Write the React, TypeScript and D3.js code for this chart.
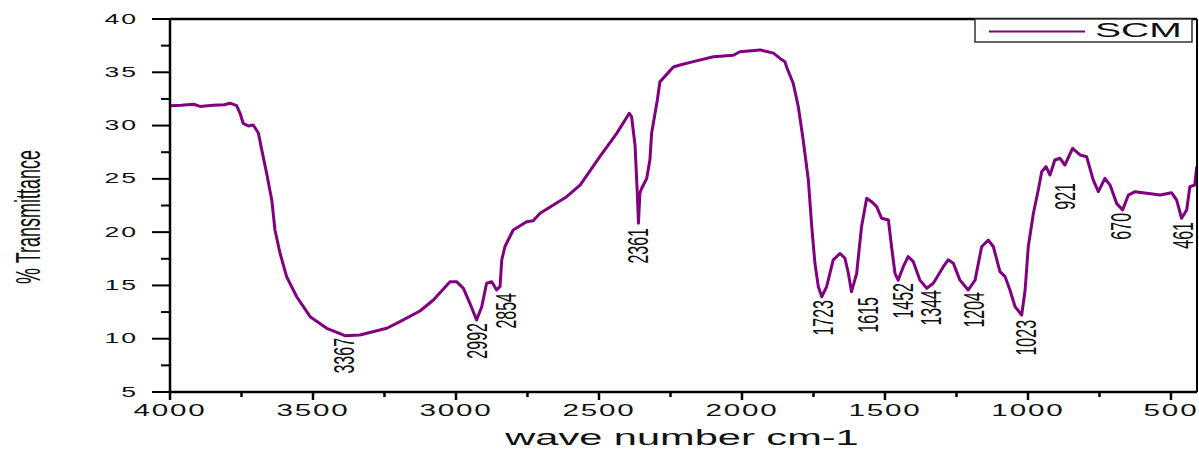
import React from "react";
import * as d3 from "d3";

const wavenumbers: number[] = [
  4000, 3960, 3918, 3895, 3849, 3810, 3790, 3767, 3755, 3744, 3726, 3709, 3691, 3679, 3662, 3644, 3633, 3615, 3592, 3557,
  3510, 3452, 3388, 3336, 3242, 3196, 3126, 3079, 3021, 2998, 2974, 2951, 2928, 2910, 2893, 2875, 2858, 2846, 2840, 2829,
  2800, 2753, 2730, 2706, 2613, 2566, 2497, 2438, 2394, 2386, 2374, 2366, 2362, 2357, 2351, 2333, 2322, 2316, 2304, 2296,
  2287, 2240, 2217, 2170, 2100, 2030, 2007, 1937, 1890, 1867, 1850, 1844, 1821, 1803, 1786, 1768, 1756, 1745, 1733, 1721,
  1704, 1681, 1657, 1640, 1628, 1617, 1599, 1582, 1564, 1547, 1529, 1512, 1488, 1477, 1465, 1454, 1436, 1419, 1401, 1378,
  1354, 1331, 1296, 1279, 1261, 1238, 1209, 1185, 1162, 1139, 1121, 1098, 1080, 1063, 1045, 1022, 1010, 999, 981, 964,
  952, 937, 923, 906, 888, 871, 844, 818, 795, 772, 754, 731, 713, 690, 669, 649, 626, 585, 538, 498,
  480, 463, 445, 434, 417, 410,
];

const transmittance: number[] = [
  31.85, 31.9, 32.0, 31.8, 31.9, 31.95, 32.1, 31.87, 31.15, 30.2, 29.96, 30.05, 29.3, 27.7, 25.5, 23.0, 20.2, 18.0, 15.8, 13.94,
  12.07, 10.98, 10.28, 10.35, 10.98, 11.6, 12.6, 13.63, 15.35, 15.35, 14.73, 13.3, 11.75, 13.0, 15.2, 15.35, 14.57, 14.9, 17.4, 18.63,
  20.2, 20.98, 21.07, 21.77, 23.33, 24.42, 27.08, 29.27, 31.15, 30.83, 28.18, 23.64, 20.83, 23.64, 24.1, 25.05, 26.77, 29.27, 31.15, 32.4,
  34.1, 35.5, 35.68, 36.0, 36.46, 36.6, 36.93, 37.1, 36.8, 36.3, 36.0, 35.5, 33.97, 31.77, 28.65, 24.9, 20.5, 17.08, 14.88, 13.94,
  14.88, 17.4, 18.0, 17.55, 16.14, 14.41, 16.14, 20.5, 23.17, 22.86, 22.39, 21.3, 21.14, 18.63, 16.14, 15.5, 16.76, 17.7, 17.23, 15.5,
  14.73, 15.2, 16.76, 17.4, 17.08, 15.5, 14.57, 15.5, 18.63, 19.26, 18.63, 16.29, 15.82, 14.57, 13.0, 12.22, 14.57, 18.63, 21.77, 23.95,
  25.67, 26.14, 25.36, 26.77, 26.93, 26.3, 27.87, 27.24, 27.08, 24.9, 23.8, 25.05, 24.42, 22.7, 22.08, 23.48, 23.8, 23.64, 23.48, 23.7,
  23.0, 21.3, 22.08, 24.26, 24.42, 26.14,
];

const peakTexts: string[] = ["3367", "2992", "2854", "2361", "1723", "1615", "1452", "1344", "1204", "1023", "921", "670", "461"];
const peakLabelWn: number[] = [3393, 2928, 2829, 2365, 1719, 1563, 1439, 1341, 1191, 1009, 872, 678, 460];
const peakLabelTop: number[] = [10.07, 11.47, 14.29, 20.39, 13.63, 13.91, 15.23, 14.57, 14.38, 11.76, 24.61, 21.8, 20.95];

const xMajorTicks: number[] = [4000, 3500, 3000, 2500, 2000, 1500, 1000, 500];
const xMinorTicks: number[] = [3750, 3250, 2750, 2250, 1750, 1250, 750];
const yMajorTicks: number[] = [5, 10, 15, 20, 25, 30, 35, 40];
const yMinorTicks: number[] = [7.5, 12.5, 17.5, 22.5, 27.5, 32.5, 37.5];

const seriesName = "SCM";
const xTitle = "wave number cm-1";
const yTitle = "% Transmittance";

const FONT = "'Liberation Sans', Arial, sans-serif";
const SX = 1.9;

export default function App() {
  const W = 1199;
  const H = 449;
  const left = 170, right = 1197, top = 19, bottom = 392;
  const x = d3.scaleLinear().domain([4000, 409]).range([left, right]);
  const y = d3.scaleLinear().domain([5, 40]).range([bottom, top]);
  const pts: [number, number][] = wavenumbers.map((w, i) => [w, transmittance[i]]);
  const line = d3.line<[number, number]>().x((d) => x(d[0])).y((d) => y(d[1]));

  return (
    <svg width={W} height={H} style={{ position: "absolute", left: 0, top: 0, background: "#fff" }} fontFamily={FONT}>
      <rect x={0} y={0} width={W} height={H} fill="#fff" />
      {/* minor / major ticks */}
      {yMajorTicks.map((t) => (
        <line key={"ym" + t} x1={left - 18} x2={left} y1={y(t)} y2={y(t)} stroke="#000" strokeWidth={2} />
      ))}
      {yMinorTicks.map((t) => (
        <line key={"yn" + t} x1={left - 9} x2={left} y1={y(t)} y2={y(t)} stroke="#000" strokeWidth={2} />
      ))}
      {xMajorTicks.map((t) => (
        <line key={"xm" + t} x1={x(t)} x2={x(t)} y1={bottom} y2={bottom + 8} stroke="#000" strokeWidth={2.5} />
      ))}
      {xMinorTicks.map((t) => (
        <line key={"xn" + t} x1={x(t)} x2={x(t)} y1={bottom} y2={bottom + 5} stroke="#000" strokeWidth={2.5} />
      ))}
      {/* tick labels */}
      {yMajorTicks.map((t) => (
        <text key={"yl" + t} transform={`translate(${left - 32},${y(t)}) scale(${SX},1)`} textAnchor="end"
          dominantBaseline="central" fontSize={14} letterSpacing={1} fill="#111">{t}</text>
      ))}
      {xMajorTicks.map((t) => (
        <text key={"xl" + t} transform={`translate(${x(t)},${bottom + 24}) scale(1.85,1)`} textAnchor="middle"
          fontSize={16} letterSpacing={1} fill="#111">{t}</text>
      ))}
      {/* data line */}
      <path d={line(pts) || ""} fill="none" stroke="#800080" strokeWidth={3} strokeLinejoin="round" />
      {/* peak labels */}
      {peakTexts.map((s, i) => (
        <text key={"pk" + s} transform={`translate(${x(peakLabelWn[i])},${y(peakLabelTop[i])}) scale(${SX},1) rotate(-90)`}
          textAnchor="end" dominantBaseline="central" fontSize={16} fill="#111">{s}</text>
      ))}
      {/* frame */}
      <line x1={left} x2={right} y1={top} y2={top} stroke="#000" strokeWidth={2.5} />
      <line x1={right} x2={right} y1={top} y2={bottom} stroke="#000" strokeWidth={2} />
      <line x1={left} x2={right} y1={bottom} y2={bottom} stroke="#000" strokeWidth={2.5} />
      <line x1={left} x2={left} y1={top} y2={bottom} stroke="#000" strokeWidth={2.5} />
      {/* legend */}
      <rect x={975} y={top} width={217} height={23} fill="#fff" stroke="#333" strokeWidth={1.5} />
      <line x1={989} x2={1085} y1={31.5} y2={31.5} stroke="#800080" strokeWidth={2} />
      <text transform={`translate(1095,37) scale(1.95,1)`} fontSize={20} fill="#111">{seriesName}</text>
      {/* axis titles */}
      <text transform={`translate(682,445) scale(1.89,1)`} textAnchor="middle" fontSize={22} fill="#111">{xTitle}</text>
      <text transform={`translate(28,217) scale(${SX},1) rotate(-90)`} textAnchor="middle" dominantBaseline="central"
        fontSize={18} fill="#111">{yTitle}</text>
    </svg>
  );
}
